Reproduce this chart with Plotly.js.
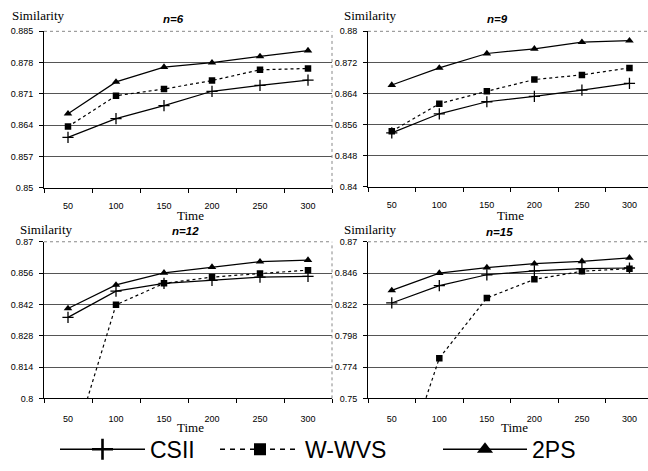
<!DOCTYPE html>
<html>
<head>
<meta charset="utf-8">
<script src="https://cdn.plot.ly/plotly-3.0.1.min.js"></script>
<style>html,body{margin:0;padding:0;background:#fff;}#chart{width:648px;height:471px;}</style>
</head>
<body>
<div id="chart"></div>
<script>
// ---- data ----
const times = ['50', '100', '150', '200', '250', '300'];
const seriesNames = ['CSII', 'W-WVS', '2PS'];
const panelTitles = ['n=6', 'n=9', 'n=12', 'n=15'];

const n6_csii = [0.8613, 0.8655, 0.8684, 0.8716, 0.8729, 0.8741];
const n6_wwvs = [0.8637, 0.8706, 0.8721, 0.8740, 0.8764, 0.8767];
const n6_2ps  = [0.8666, 0.8737, 0.8770, 0.8780, 0.8794, 0.8807];

const n9_csii = [0.8539, 0.8588, 0.8619, 0.8633, 0.8649, 0.8666];
const n9_wwvs = [0.8543, 0.8614, 0.8646, 0.8676, 0.8688, 0.8706];
const n9_2ps  = [0.8662, 0.8706, 0.8743, 0.8755, 0.8772, 0.8776];

const n12_csii = [0.8362, 0.8479, 0.8514, 0.8527, 0.8542, 0.8545];
const n12_wwvs = [0.7714, 0.8418, 0.8514, 0.8542, 0.8558, 0.8573];
const n12_2ps  = [0.8402, 0.8507, 0.8561, 0.8587, 0.8611, 0.8618];

const n15_csii = [0.8231, 0.8364, 0.8447, 0.8477, 0.8494, 0.8499];
const n15_wwvs = [0.6720, 0.7808, 0.8269, 0.8412, 0.8474, 0.8494];
const n15_2ps  = [0.8327, 0.8460, 0.8502, 0.8532, 0.8550, 0.8577];

const yTicks6  = ['0.85', '0.857', '0.864', '0.871', '0.878', '0.885'];
const yTicks9  = ['0.84', '0.848', '0.856', '0.864', '0.872', '0.88'];
const yTicks12 = ['0.8', '0.814', '0.828', '0.842', '0.856', '0.87'];
const yTicks15 = ['0.75', '0.774', '0.798', '0.822', '0.846', '0.87'];

// ---- layout constants (pixels) ----
const W = 648, H = 471;
const panels = [
  {vals: [n6_csii, n6_wwvs, n6_2ps],   ticks: yTicks6,  xl: 44,  xr: 332, yt: 32,  yb: 192, xRange: [-0.5, 5.5],
   simX: 38,  simY: 16,  nX: 173, nY: 19, timeX: 190, timeY: 220, standoff: 9, rightBorder: true},
  {vals: [n9_csii, n9_wwvs, n9_2ps],   ticks: yTicks9,  xl: 368, xr: 648, yt: 32,  yb: 191, xRange: [-0.5, 5.39],
   simX: 370, simY: 16,  nX: 497, nY: 19, timeX: 510, timeY: 220, standoff: 9, rightBorder: false},
  {vals: [n12_csii, n12_wwvs, n12_2ps], ticks: yTicks12, xl: 44,  xr: 332, yt: 247, yb: 407, xRange: [-0.5, 5.5],
   simX: 46,  simY: 234, nX: 185, nY: 236, timeX: 190, timeY: 437, standoff: 12, rightBorder: true},
  {vals: [n15_csii, n15_wwvs, n15_2ps], ticks: yTicks15, xl: 368, xr: 648, yt: 247, yb: 407, xRange: [-0.5, 5.39],
   simX: 370, simY: 234, nX: 499, nY: 237, timeX: 514, timeY: 437, standoff: 12, rightBorder: false}
];

const styles = [
  {dash: 'solid', ldash: 'solid',   symbol: 'cross-thin',  size: 8,   lsize: 15, lw: 2.6},
  {dash: 'dot',   ldash: '5px,5px', symbol: 'square',      size: 6.5, lsize: 12, lw: 0},
  {dash: 'solid', ldash: 'solid',   symbol: 'triangle-up', size: 7.5, lsize: 14, lw: 0}
];

const traces = [];
const layout = {
  width: W, height: H,
  margin: {l: 0, r: 0, t: 0, b: 0},
  paper_bgcolor: '#fff', plot_bgcolor: 'rgba(0,0,0,0)',
  showlegend: true,
  annotations: [], shapes: []
};

const fx = px => px / W;
const fy = py => (H - py) / H;
const tickFont = {family: 'Liberation Sans, Arial, sans-serif', size: 9, color: '#000'};

panels.forEach((p, i) => {
  const k = i + 1;
  const xa = 'x' + (k === 1 ? '' : k), ya = 'y' + (k === 1 ? '' : k);
  const xName = 'xaxis' + (k === 1 ? '' : k), yName = 'yaxis' + (k === 1 ? '' : k);
  const tv = p.ticks.map(Number);
  p.vals.forEach((v, s) => {
    const st = styles[s];
    traces.push({
      type: 'scatter', mode: 'lines+markers', x: times, y: v, xaxis: xa, yaxis: ya,
      name: seriesNames[s], showlegend: false, cliponaxis: true,
      line: {color: '#000', width: 1.2, dash: st.dash},
      marker: {symbol: st.symbol, size: st.size, color: '#000', line: {color: '#000', width: st.symbol === 'cross-thin' ? 1.3 : 0}}
    });
  });
  layout[xName] = {
    domain: [fx(p.xl), fx(p.xr)], anchor: ya, type: 'category', range: p.xRange,
    showline: true, linecolor: '#000', linewidth: 1, ticks: 'outside', tickson: 'boundaries',
    ticklen: 4, tickcolor: '#000', tickwidth: 1, showgrid: false, zeroline: false,
    tickfont: tickFont, ticklabelstandoff: p.standoff, fixedrange: true
  };
  layout[yName] = {
    domain: [fy(p.yb), fy(p.yt)], anchor: xa, range: [tv[0], tv[tv.length - 1]],
    tickvals: tv, ticktext: p.ticks,
    showline: true, linecolor: '#000', linewidth: 1, ticks: 'outside', ticklen: 4,
    tickcolor: '#000', tickwidth: 1, showgrid: true, gridcolor: '#555', gridwidth: 1, zeroline: false,
    tickfont: tickFont, ticklabelstandoff: 4, fixedrange: true
  };
  // dotted plot-area border (top, right)
  layout.shapes.push({type: 'line', xref: xa + ' domain', yref: ya + ' domain', x0: 0, x1: 1, y0: 1, y1: 1,
    line: {color: '#888', width: 1, dash: 'dot'}});
  if (p.rightBorder) {
    layout.shapes.push({type: 'line', xref: xa + ' domain', yref: ya + ' domain', x0: 1, x1: 1, y0: 0, y1: 1,
      line: {color: '#888', width: 1, dash: 'dot'}});
  }
  layout.annotations.push(
    {text: 'Similarity', xref: 'paper', yref: 'paper', x: fx(p.simX), y: fy(p.simY), xanchor: 'center', yanchor: 'middle',
     showarrow: false, font: {family: 'Liberation Serif, Times New Roman, serif', size: 13, color: '#000'}},
    {text: panelTitles[i], xref: 'paper', yref: 'paper', x: fx(p.nX), y: fy(p.nY), xanchor: 'center', yanchor: 'middle',
     showarrow: false, font: {family: 'Liberation Sans, Arial, sans-serif', size: 11.5, color: '#000', weight: 'bold', style: 'italic'}},
    {text: 'Time', xref: 'paper', yref: 'paper', x: fx(p.timeX), y: fy(p.timeY), xanchor: 'center', yanchor: 'middle',
     showarrow: false, font: {family: 'Liberation Serif, Times New Roman, serif', size: 13, color: '#000'}}
  );
});

// key entries: copies of the n=6 series on a hidden, out-of-range helper axis pair,
// drawn with the larger key symbols of the reference
layout.xaxis5 = {domain: [0, 0.01], anchor: 'y5', visible: false, type: 'category', range: [10, 11], fixedrange: true};
layout.yaxis5 = {domain: [0, 0.01], anchor: 'x5', visible: false, range: [5, 6], fixedrange: true};
const legendIds = ['legend', 'legend2', 'legend3'];
const legendX = [55, 215, 438];
const legendW = [85, 80, 84];
seriesNames.forEach((nm, s) => {
  const st = styles[s];
  traces.push({
    type: 'scatter', mode: 'lines+markers', x: times, y: panels[0].vals[s], xaxis: 'x5', yaxis: 'y5',
    name: nm, showlegend: true, legend: legendIds[s], cliponaxis: true, hoverinfo: 'skip',
    line: {color: '#000', width: 1.5, dash: st.ldash},
    marker: {symbol: st.symbol, size: st.lsize, color: '#000', line: {color: '#000', width: st.lw}}
  });
  layout[legendIds[s]] = {
    x: fx(legendX[s]), xanchor: 'left', y: fy(459), yanchor: 'middle', orientation: 'h',
    itemwidth: legendW[s], bgcolor: 'rgba(0,0,0,0)', borderwidth: 0,
    font: {family: 'Liberation Sans, Arial, sans-serif', size: 23, color: '#000'},
    itemclick: false, itemdoubleclick: false
  };
});

Plotly.newPlot('chart', traces, layout, {staticPlot: true, displayModeBar: false});
</script>
</body>
</html>
